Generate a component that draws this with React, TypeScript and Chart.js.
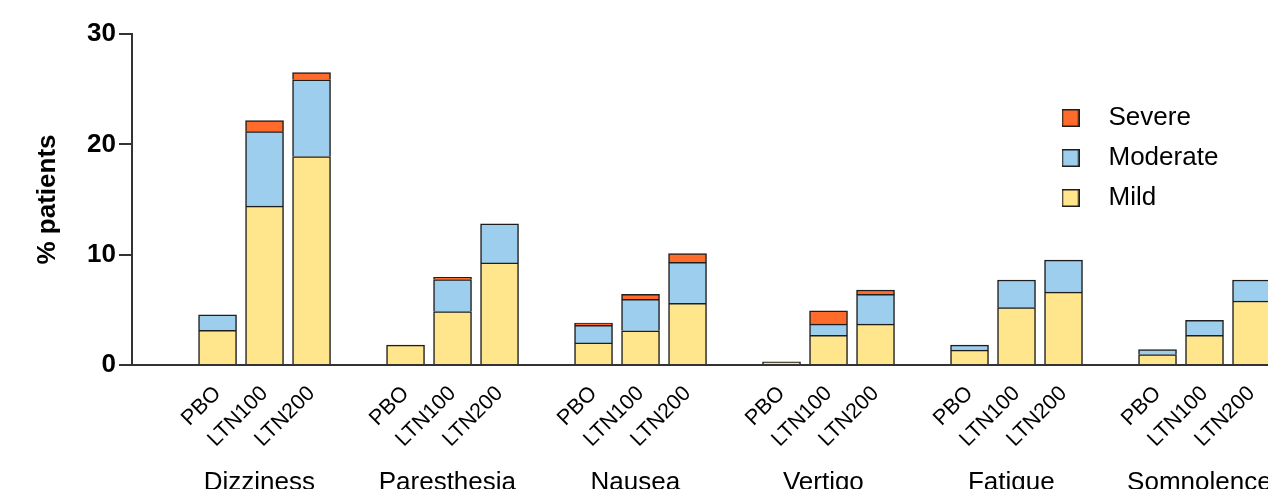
import React, { useEffect, useRef } from 'react';
import { Chart, registerables } from 'chart.js';

Chart.register(...registerables);

// ---- data ----
const groups = ['Dizziness', 'Paresthesia', 'Nausea', 'Vertigo', 'Fatigue', 'Somnolence'];
const arms = ['PBO', 'LTN100', 'LTN200'];
// values in order: group by group, PBO / LTN100 / LTN200
const mild = [3.15, 14.4, 18.9, 1.8, 4.85, 9.25, 2.0, 3.1, 5.6, 0.28, 2.7, 3.7, 1.35, 5.2, 6.6, 0.95, 2.7, 5.8];
const moderate = [1.4, 6.75, 6.95, 0, 2.9, 3.55, 1.6, 2.85, 3.7, 0, 1.0, 2.7, 0.45, 2.5, 2.9, 0.45, 1.35, 1.9];
const severe = [0, 1.0, 0.65, 0, 0.2, 0, 0.2, 0.45, 0.8, 0, 1.2, 0.4, 0, 0, 0, 0, 0, 0];
const severityNames = ['Mild', 'Moderate', 'Severe'];
const yTicks = [0, 10, 20, 30];

// ---- styles ----
const FONT = "'Liberation Sans', Arial, Helvetica, sans-serif";
const COLORS = ['#FFE58B', '#9DCEEE', '#FF6B2B'];
const BORDER = '#1e1e1e';
const AXIS = '#333333';
const X_MIN = -1.82;
const X_MAX = 23.67;
const GROUP_LABEL_SHIFT = -0.11;
const W = 1330;
const H = 510;

const slotOf = (i: number) => Math.floor(i / arms.length) * (arms.length + 1) + (i % arms.length);
const slots = mild.map((_, i) => slotOf(i));
const groupCenters = groups.map((_, g) => g * (arms.length + 1) + 1);

function armLabel(v: number): string {
  const idx = slots.indexOf(Math.round(v));
  return idx >= 0 ? arms[idx % arms.length] : '';
}
function groupLabel(v: number): string {
  const idx = groupCenters.indexOf(Math.round(v));
  return idx >= 0 ? groups[idx] : '';
}

function marker(color: string): HTMLCanvasElement {
  const c = document.createElement('canvas');
  c.width = 18;
  c.height = 18;
  const ctx = c.getContext('2d')!;
  ctx.fillStyle = color;
  ctx.fillRect(0, 0, 18, 18);
  ctx.strokeStyle = BORDER;
  ctx.lineWidth = 1.5;
  ctx.strokeRect(0.75, 0.75, 16.5, 16.5);
  return c;
}

const legendPlacer = {
  id: 'legendPlacer',
  afterLayout(chart: any) {
    const lg = chart.legend;
    if (!lg) return;
    const w = lg.width;
    lg.left = 1031.5;
    lg.top = 91;
    lg.right = lg.left + w;
    lg.bottom = lg.top + 200;
    lg.height = 200;
  },
};

export default function App() {
  const ref = useRef<HTMLCanvasElement | null>(null);

  useEffect(() => {
    if (!ref.current) return;
    const series = [mild, moderate, severe];
    const markers = COLORS.map((c) => marker(c));
    const chart = new Chart(ref.current, {
      type: 'bar',
      data: {
        datasets: series.map((vals, s) => ({
          label: severityNames[s],
          data: vals.map((v, i) => ({ x: slots[i], y: v })),
          backgroundColor: COLORS[s],
          borderColor: BORDER,
          borderWidth: 1.5,
          borderSkipped: 'start',
          barThickness: 38,
        })),
      },
      options: {
        responsive: false,
        animation: false,
        devicePixelRatio: 1,
        layout: { padding: { left: 0, top: 34, right: 0, bottom: 0 } },
        plugins: {
          tooltip: { enabled: false },
          legend: {
            position: 'chartArea',
            align: 'start',
            labels: {
              usePointStyle: true,
              pointStyleWidth: 50,
              padding: 14,
              color: '#000',
              font: { family: FONT, size: 26 },
              generateLabels: () =>
                [2, 1, 0].map((s) => ({
                  text: severityNames[s],
                  fillStyle: COLORS[s],
                  strokeStyle: BORDER,
                  lineWidth: 1.5,
                  pointStyle: markers[s],
                  datasetIndex: s,
                  hidden: false,
                  textAlign: 'left',
                  fontColor: '#000',
                })),
            },
          },
        },
        scales: {
          x: {
            type: 'linear',
            min: X_MIN,
            max: X_MAX,
            bounds: 'data',
            stacked: true,
            offset: false,
            afterBuildTicks: (s: any) => {
              s.ticks = slots.map((v) => ({ value: v }));
            },
            ticks: {
              autoSkip: false,
              minRotation: 45,
              maxRotation: 45,
              padding: 16,
              color: '#000',
              font: { family: FONT, size: 21.5 },
              callback: (v: any) => armLabel(Number(v)),
            },
            grid: { display: false, drawTicks: false },
            border: { display: true, color: AXIS, width: 2 },
            afterFit: (s: any) => {
              s.height = 92;
            },
          },
          x2: {
            type: 'linear',
            axis: 'x',
            position: 'bottom',
            min: X_MIN,
            max: X_MAX,
            bounds: 'data',
            offset: false,
            afterBuildTicks: (s: any) => {
              s.ticks = groupCenters.map((v) => ({ value: v + GROUP_LABEL_SHIFT }));
            },
            ticks: {
              autoSkip: false,
              minRotation: 0,
              maxRotation: 0,
              padding: 10,
              color: '#000',
              font: { family: FONT, size: 26 },
              callback: (v: any) => groupLabel(Number(v)),
            },
            grid: { display: false, drawTicks: false },
            border: { display: false },
            afterFit: (s: any) => {
              s.height = H - 365 - 92;
            },
          },
          y: {
            min: 0,
            max: 30,
            stacked: true,
            afterBuildTicks: (s: any) => {
              s.ticks = yTicks.map((v) => ({ value: v }));
            },
            ticks: {
              padding: 3,
              color: '#000',
              font: { family: FONT, size: 26, weight: 'bold' },
            },
            grid: { drawOnChartArea: false, drawTicks: true, tickLength: 13, color: AXIS, lineWidth: 2 },
            border: { display: true, color: AXIS, width: 2 },
            title: {
              display: true,
              text: '% patients',
              color: '#000',
              font: { family: FONT, size: 26, weight: 'bold' },
              padding: { top: 32, bottom: 0 },
            },
            afterFit: (s: any) => {
              s.width = 132;
            },
          },
        },
      } as any,
      plugins: [legendPlacer],
    });
    return () => chart.destroy();
  }, []);

  return (
    <div style={{ position: 'fixed', left: 0, top: 0, width: 1268, height: 489, overflow: 'hidden', background: '#fff' }}>
      <canvas ref={ref} width={W} height={H} style={{ display: 'block', width: W, height: H }} />
    </div>
  );
}
